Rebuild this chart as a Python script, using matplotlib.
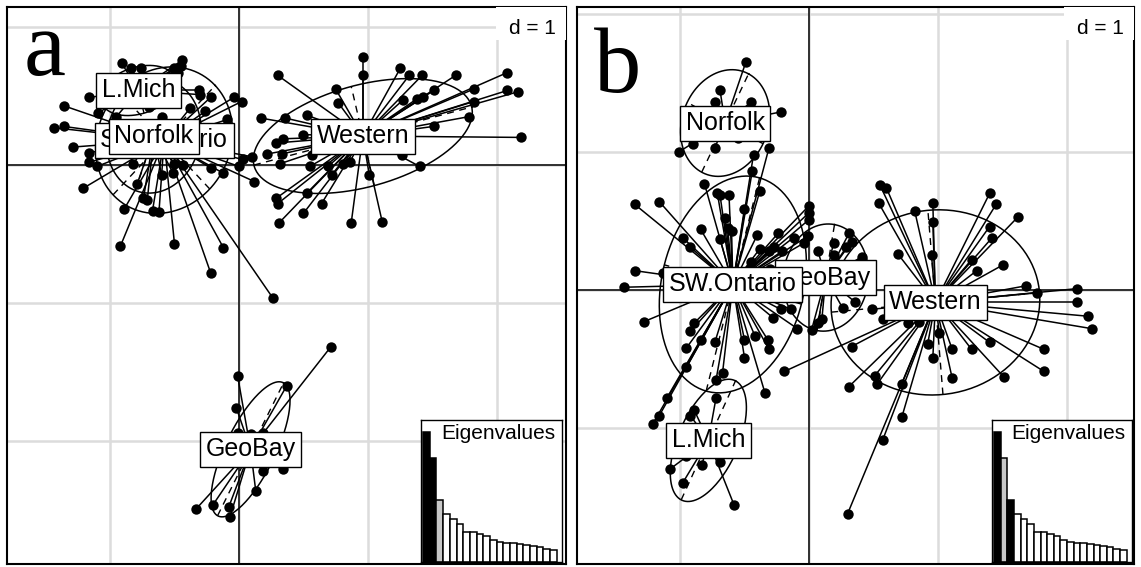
import numpy as np
import matplotlib
matplotlib.use("Agg")
import matplotlib.pyplot as plt
from matplotlib.patches import Rectangle

plt.rcParams['font.family'] = ['Liberation Sans', 'DejaVu Sans']

# ---- panel a : axes 1 x 2 ----
a_geobay = [(0.71, -1.32), (-0.01, -1.53), (0.37, -1.60), (-0.02, -1.76), (-0.01, -1.94),
            (0.09, -1.95), (0.19, -1.94), (0.19, -2.22), (0.34, -2.20), (0.13, -2.36),
            (-0.33, -2.49), (-0.20, -2.46), (-0.08, -2.48), (-0.07, -2.55)]
a_lmich = [(-0.91, 0.74), (-0.84, 0.70), (-0.76, 0.70), (-0.44, 0.76), (-0.45, 0.72),
           (-0.50, 0.70), (-0.47, 0.67), (-1.16, 0.49), (-1.09, 0.38), (-0.30, 0.51),
           (-0.31, 0.54), (-0.70, 0.42), (-0.95, 0.35)]
a_swont = [(-1.36, 0.43), (-1.43, 0.27), (-1.36, 0.28), (-1.29, 0.13), (-1.16, 0.09),
           (-1.16, 0.02), (-1.10, -0.01), (-1.21, -0.17), (-0.22, 0.49), (-0.04, 0.49),
           (0.02, 0.46), (-0.38, 0.41), (-0.26, 0.39), (-0.09, 0.33), (0.10, 0.06),
           (0.03, 0.04), (0.00, -0.01), (-0.22, -0.02), (-0.12, -0.06), (0.12, -0.12),
           (-0.92, -0.59), (-0.50, -0.57), (-0.12, -0.60), (-0.22, -0.78), (0.26, -0.96),
           (-0.89, -0.32), (-0.67, -0.33), (-0.62, -0.34), (-0.60, 0.35), (-0.55, 0.30)]
a_norfolk = [(-0.50, 0.01), (-0.51, -0.06), (-0.43, 0.00), (-0.82, 0.01), (-0.79, -0.14),
             (-0.74, -0.24), (-0.71, -0.25), (-0.60, -0.07)]
a_western = [(0.96, 0.78), (0.96, 0.65), (0.30, 0.65), (1.25, 0.70), (1.32, 0.65),
             (1.42, 0.65), (1.68, 0.65), (2.08, 0.67), (2.08, 0.54), (2.16, 0.53),
             (1.82, 0.55), (1.51, 0.54), (1.43, 0.49), (1.38, 0.48), (1.27, 0.47),
             (1.82, 0.46), (0.75, 0.55), (0.77, 0.45), (1.78, 0.35), (2.19, 0.20),
             (1.51, 0.28), (1.26, 0.07), (1.40, -0.01), (0.17, 0.34), (0.36, 0.34),
             (0.53, 0.36), (0.50, 0.22), (0.34, 0.19), (0.29, 0.16), (0.22, 0.08),
             (0.33, 0.08), (0.32, 0.01), (0.57, 0.07), (0.55, -0.01), (0.81, 0.01),
             (0.86, 0.02), (0.69, -0.01), (0.72, -0.07), (1.01, -0.07), (0.53, -0.20),
             (0.29, -0.24), (0.30, -0.28), (0.64, -0.28), (0.50, -0.35), (0.31, -0.42),
             (0.87, -0.42), (1.11, -0.41)]
a_centroids = {"GeoBay": (0.09, -2.06), "L.Mich": (-0.78, 0.54), "SW.Ontario": (-0.58, 0.18),
               "Norfolk": (-0.66, 0.21), "Western": (0.96, 0.21)}
# ellipse: semi-axis a, semi-axis b, angle (deg)
a_ellipses = {"GeoBay": (0.545, 0.19, 62), "L.Mich": (0.30, 0.17, 15),
              "SW.Ontario": (0.56, 0.50, 45), "Norfolk": (0.42, 0.36, 70),
              "Western": (0.87, 0.37, 14)}

# ---- panel b : axes 1 x 3 ----
b_geobay = [(0.19, 0.34), (0.31, 0.41), (0.33, 0.35), (0.29, 0.31), (0.41, 0.24),
            (0.07, 0.28), (0.19, 0.25), (0.10, -0.21), (0.07, -0.24), (0.02, -0.29),
            (0.26, -0.13), (0.36, -0.09)]
b_lmich = [(-1.08, -1.30), (-0.98, -1.40), (-0.83, -1.27), (-0.69, -1.25), (-0.58, -1.56),
           (-0.89, -0.87), (-0.92, -0.91), (-0.72, -0.78), (-0.95, -1.20)]
b_swont = [(-0.44, 0.86), (-0.43, 0.98), (-0.31, 1.03), (-0.38, 0.72), (-0.81, 0.77),
           (-0.71, 0.70), (-0.69, 0.69), (-0.62, 0.69), (-1.35, 0.62), (-1.16, 0.64),
           (-0.50, 0.59), (-0.65, 0.52), (-0.84, 0.44), (-0.98, 0.38), (-0.63, 0.45),
           (-0.60, 0.43), (-0.69, 0.37), (-0.40, 0.40), (-0.24, 0.41), (-0.38, 0.30),
           (-0.92, 0.31), (-0.27, 0.31), (-0.12, 0.38), (0.00, 0.61), (0.00, 0.56),
           (0.00, 0.51), (-0.01, 0.39), (-0.04, 0.34), (-0.31, 0.28), (-0.21, 0.28),
           (-1.35, 0.14), (-1.43, 0.02), (-1.13, 0.12), (-1.28, -0.23), (-0.89, -0.24),
           (-0.92, -0.30), (-0.95, -0.42), (-0.84, -0.36), (-0.73, -0.38), (-0.95, -0.56),
           (-0.67, -0.60), (-0.72, -0.65), (-1.10, -0.78), (-1.16, -0.91), (-1.21, -0.97),
           (-0.50, -0.36), (-0.50, -0.49), (-0.42, -0.33), (-0.32, -0.36), (-0.31, -0.43),
           (-0.28, -0.20), (-0.22, -0.14), (-0.14, -0.14), (-0.09, -0.28), (-0.34, -0.75),
           (-0.30, 0.15), (-0.15, 0.18), (-0.45, 0.20)]
b_norfolk = [(-0.49, 1.65), (-0.69, 1.45), (-0.73, 1.36), (-0.45, 1.36), (-0.22, 1.29),
             (-1.01, 1.00), (-0.90, 1.06), (-0.73, 1.03), (-0.55, 1.10), (-0.80, 1.25)]
b_western = [(0.55, 0.76), (0.60, 0.74), (0.54, 0.63), (0.82, 0.57), (0.96, 0.63),
             (0.96, 0.49), (1.40, 0.70), (1.45, 0.62), (1.62, 0.53), (1.40, 0.46),
             (1.42, 0.38), (1.50, 0.18), (1.26, 0.22), (1.30, 0.14), (0.69, 0.26),
             (0.95, 0.25), (1.68, 0.03), (2.08, 0.01), (1.77, -0.02), (2.08, -0.09),
             (2.16, -0.19), (2.19, -0.28), (1.82, -0.43), (1.82, -0.59), (1.51, -0.63),
             (1.40, -0.38), (1.26, -0.43), (1.11, -0.43), (1.11, -0.64), (0.96, -0.49),
             (0.92, -0.39), (1.01, -0.31), (0.77, -0.24), (0.85, -0.23), (0.51, -0.62),
             (0.53, -0.68), (0.72, -0.68), (0.31, -0.70), (0.33, -0.41), (-0.19, -0.59),
             (0.72, -0.92), (0.57, -1.09), (0.30, -1.62), (0.49, -0.14), (0.57, -0.21)]
b_centroids = {"GeoBay": (0.13, 0.09), "L.Mich": (-0.78, -1.09), "SW.Ontario": (-0.59, 0.04),
               "Norfolk": (-0.65, 1.21), "Western": (0.98, -0.09)}
b_ellipses = {"GeoBay": (0.39, 0.33, 80), "L.Mich": (0.48, 0.23, 64),
              "SW.Ontario": (0.80, 0.55, 75), "Norfolk": (0.40, 0.33, 63),
              "Western": (0.81, 0.67, 5)}

eigvals = [3.88, 3.10, 1.86, 1.42, 1.27, 1.14, 0.91, 0.89, 0.85, 0.78,
           0.66, 0.61, 0.58, 0.56, 0.54, 0.52, 0.49, 0.45, 0.40, 0.37]

order = ["GeoBay", "L.Mich", "SW.Ontario", "Norfolk", "Western"]

W, H = 1141, 567
fig = plt.figure(figsize=(W / 100, H / 100), dpi=100)


def px_axes(x0, y0, x1, y1):
    # pixel box (top-left origin) -> figure axes
    return fig.add_axes([x0 / W, (H - y1) / H, (x1 - x0) / W, (y1 - y0) / H])


def draw_panel(box, xlim, ylim, groups, cents, ells, letter, letter_y, inset_box, eig_cols):
    ax = px_axes(*box)
    ax.set_xlim(*xlim)
    ax.set_ylim(*ylim)
    for g in range(int(np.ceil(xlim[0])), int(np.floor(xlim[1])) + 1):
        ax.axvline(g, color='#dcdcdc', lw=1.8, zorder=0)
    for g in range(int(np.ceil(ylim[0])), int(np.floor(ylim[1])) + 1):
        ax.axhline(g, color='#dcdcdc', lw=1.8, zorder=0)
    ax.axvline(0, color='black', lw=1.1, zorder=1)
    ax.axhline(0, color='black', lw=1.1, zorder=1)

    t = np.linspace(0, 2 * np.pi, 200)
    for name in order:
        pts = np.array(groups[name])
        cx, cy = cents[name]
        for px, py in pts:
            ax.plot([cx, px], [cy, py], color='black', lw=1.1, zorder=2)
        ax.scatter(pts[:, 0], pts[:, 1], s=56, color='black', zorder=3, linewidths=0)
        ea, eb, ang = ells[name]
        th = np.deg2rad(ang)
        ex = cx + ea * np.cos(t) * np.cos(th) - eb * np.sin(t) * np.sin(th)
        ey = cy + ea * np.cos(t) * np.sin(th) + eb * np.sin(t) * np.cos(th)
        ax.plot(ex, ey, color='black', lw=1.1, zorder=2)
        ax.plot([cx - ea * np.cos(th), cx + ea * np.cos(th)],
                [cy - ea * np.sin(th), cy + ea * np.sin(th)],
                color='black', lw=1.0, ls=(0, (5, 4)), zorder=2)
        ax.plot([cx + eb * np.sin(th), cx - eb * np.sin(th)],
                [cy - eb * np.cos(th), cy + eb * np.cos(th)],
                color='black', lw=1.0, ls=(0, (5, 4)), zorder=2)

    for i, name in enumerate(order):
        cx, cy = cents[name]
        ax.text(cx, cy, name, fontsize=18, ha='center', va='center', zorder=10 + i,
                bbox=dict(boxstyle='square,pad=0.22', fc='white', ec='black', lw=1.0))

    ax.add_patch(Rectangle((0.875, 0.941), 0.125, 0.059, transform=ax.transAxes,
                           fc='white', ec='none', zorder=20))
    ax.text(0.982, 0.951, "d = 1", transform=ax.transAxes, fontsize=15,
            ha='right', va='baseline', zorder=21)
    ax.text(0.03, letter_y, letter, transform=ax.transAxes,
            fontsize=68, family='Liberation Serif', ha='left', va='baseline', zorder=22)
    ax.set_xticks([])
    ax.set_yticks([])
    for s in ax.spines.values():
        s.set_linewidth(1.5)

    ins = px_axes(*inset_box)
    ins.bar(range(len(eigvals)), eigvals, width=1.0, color=eig_cols,
            edgecolor='black', linewidth=1.1)
    ins.set_xlim(-0.82, 20.3)
    ins.set_ylim(0, eigvals[0] * 142 / 130)
    ins.set_xticks([])
    ins.set_yticks([])
    for s in ins.spines.values():
        s.set_linewidth(1.0)
    ins.text(0.95, 0.97, "Eigenvalues", transform=ins.transAxes, fontsize=15,
             ha='right', va='top')


cols_a = ['black', 'black', '#c8c8c8'] + ['white'] * 17
cols_b = ['black', '#c8c8c8', 'black'] + ['white'] * 17

draw_panel((7, 7, 566, 564), (-1.798, 2.535), (-2.891, 1.145),
           {"GeoBay": a_geobay, "L.Mich": a_lmich, "SW.Ontario": a_swont,
            "Norfolk": a_norfolk, "Western": a_western},
           a_centroids, a_ellipses, 'a', 0.878, (421, 420, 562, 562), cols_a)
draw_panel((577, 7, 1134, 564), (-1.798, 2.519), (-1.986, 2.051),
           {"GeoBay": b_geobay, "L.Mich": b_lmich, "SW.Ontario": b_swont,
            "Norfolk": b_norfolk, "Western": b_western},
           b_centroids, b_ellipses, 'b', 0.847, (992, 420, 1132, 562), cols_b)

fig.savefig("out.png", dpi=100)
